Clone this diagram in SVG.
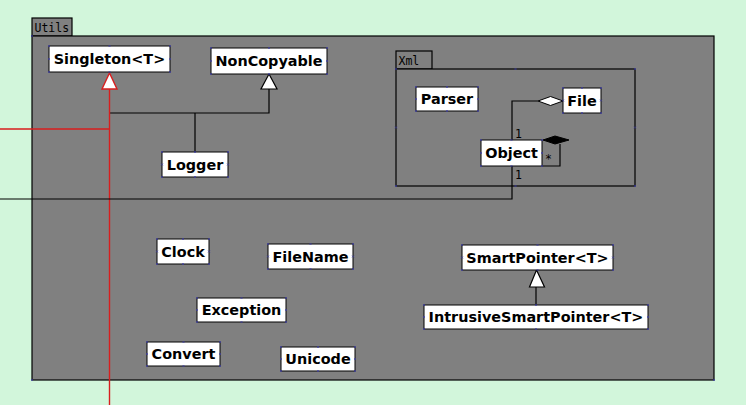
<svg xmlns="http://www.w3.org/2000/svg" width="746" height="405" viewBox="0 0 746 405">
<defs>
<style>
.bg{fill:#d2f6db}
.pkg{fill:#808080;stroke:#000;stroke-width:1.2}
.box{fill:#fff;stroke:#000;stroke-width:1}
.lbl{font-family:"DejaVu Sans",sans-serif;font-weight:bold;font-size:14.4px;text-anchor:middle;fill:#000}
.mono{font-family:"DejaVu Sans Mono",monospace;font-size:11.5px;fill:#000}
.ln{fill:none;stroke:#000;stroke-width:1.2}
.red{fill:none;stroke:#d81e1e;stroke-width:1.4}
.h{fill:none;stroke:none;marker-start:url(#hd);marker-mid:url(#hd)}
</style>
<marker id="hd" markerUnits="userSpaceOnUse" markerWidth="6" markerHeight="6" refX="3" refY="3" viewBox="0 0 6 6">
<path d="M2 2 L4 4 M4 2 L2 4" stroke="#3a3aa8" stroke-width="0.6" fill="none"/>
</marker>
</defs>
<rect class="bg" x="0" y="0" width="746" height="405"/>

<g id="pkg-utils">
<rect class="pkg" x="32" y="18" width="40" height="18"/>
<rect class="pkg" x="32" y="36" width="682" height="344"/>
<text class="mono" x="34.5" y="31.5">Utils</text>
<path class="h" d="M32 36 L32 380 L714 380 L714 36"/>
</g>

<g id="pkg-xml">
<rect class="pkg" x="396" y="51" width="36" height="18"/>
<rect class="pkg" x="396" y="69" width="239" height="117"/>
<text class="mono" x="398.5" y="64.5">Xml</text>
<path class="h" d="M396 69 L515.5 69 L635 69 L635 127.5 L635 186 L515.5 186 L396 186 L396 127.5 Z"/>
</g>

<g id="connectors">
<path class="ln" d="M195 152 V113 H110 M195 113 H269 V89"/>
<path d="M269 74 L261 89 L277 89 Z" fill="#fff" stroke="#000" stroke-width="1.2"/>
<path class="red" d="M109.5 405 V89 M0 129 H109.5"/>
<path d="M109.5 73 L102 89 L117 89 Z" fill="#fff" stroke="#d81e1e" stroke-width="1.4"/>
<path class="ln" d="M512 140 V101 H538"/>
<path d="M538 101 L550.5 96.5 L563 101 L550.5 105.5 Z" fill="#fff" stroke="#000" stroke-width="1"/>
<path class="ln" d="M542 166 H560 V144"/>
<path d="M543 140 L555 136 L569 140 L555 144 Z" fill="#000" stroke="#000" stroke-width="1"/>
<path class="ln" d="M512 166 V199 H0"/>
<text class="mono" x="515" y="137.5">1</text>
<text class="mono" x="545" y="163">*</text>
<text class="mono" x="515" y="178.5">1</text>
<path class="ln" d="M536 305 V287"/>
<path d="M536.5 270 L529.5 287 L544.5 287 Z" fill="#fff" stroke="#000" stroke-width="1.2"/>
</g>

<g id="n-singleton"><rect class="box" x="49" y="46" width="121" height="26"/><text class="lbl" x="109.5" y="64.2">Singleton&lt;T&gt;</text><path class="h" d="M49 46 L109.5 46 L170 46 L170 59 L170 72 L109.5 72 L49 72 L49 59 Z"/></g>
<g id="n-noncopyable"><rect class="box" x="211" y="48" width="116" height="26"/><text class="lbl" x="269" y="66.2">NonCopyable</text><path class="h" d="M211 48 L269 48 L327 48 L327 61 L327 74 L269 74 L211 74 L211 61 Z"/></g>
<g id="n-logger"><rect class="box" x="162" y="152" width="66" height="25"/><text class="lbl" x="195" y="169.7">Logger</text><path class="h" d="M162 152 L195 152 L228 152 L228 164.5 L228 177 L195 177 L162 177 L162 164.5 Z"/></g>
<g id="n-parser"><rect class="box" x="416" y="87" width="62" height="24"/><text class="lbl" x="447" y="104.2">Parser</text><path class="h" d="M416 87 L447 87 L478 87 L478 99 L478 111 L447 111 L416 111 L416 99 Z"/></g>
<g id="n-file"><rect class="box" x="563" y="88" width="38" height="25"/><text class="lbl" x="582" y="105.7">File</text><path class="h" d="M563 88 L582 88 L601 88 L601 100.5 L601 113 L582 113 L563 113 L563 100.5 Z"/></g>
<g id="n-object"><rect class="box" x="481" y="140" width="61" height="26"/><text class="lbl" x="511.5" y="158.2">Object</text><path class="h" d="M481 140 L511.5 140 L542 140 L542 153 L542 166 L511.5 166 L481 166 L481 153 Z"/></g>
<g id="n-clock"><rect class="box" x="157" y="239" width="52" height="25"/><text class="lbl" x="183" y="256.7">Clock</text><path class="h" d="M157 239 L183 239 L209 239 L209 251.5 L209 264 L183 264 L157 264 L157 251.5 Z"/></g>
<g id="n-filename"><rect class="box" x="268" y="244" width="85" height="25"/><text class="lbl" x="310.5" y="261.7">FileName</text><path class="h" d="M268 244 L310.5 244 L353 244 L353 256.5 L353 269 L310.5 269 L268 269 L268 256.5 Z"/></g>
<g id="n-exception"><rect class="box" x="197" y="298" width="89" height="24"/><text class="lbl" x="241.5" y="315.2">Exception</text><path class="h" d="M197 298 L241.5 298 L286 298 L286 310 L286 322 L241.5 322 L197 322 L197 310 Z"/></g>
<g id="n-convert"><rect class="box" x="147" y="342" width="73" height="24"/><text class="lbl" x="183.5" y="359.2">Convert</text><path class="h" d="M147 342 L183.5 342 L220 342 L220 354 L220 366 L183.5 366 L147 366 L147 354 Z"/></g>
<g id="n-unicode"><rect class="box" x="281" y="347" width="74" height="24"/><text class="lbl" x="318" y="364.2">Unicode</text><path class="h" d="M281 347 L318 347 L355 347 L355 359 L355 371 L318 371 L281 371 L281 359 Z"/></g>
<g id="n-smartpointer"><rect class="box" x="462" y="245" width="151" height="25"/><text class="lbl" x="537.5" y="262.7">SmartPointer&lt;T&gt;</text><path class="h" d="M462 245 L537.5 245 L613 245 L613 257.5 L613 270 L537.5 270 L462 270 L462 257.5 Z"/></g>
<g id="n-intrusive"><rect class="box" x="424" y="305" width="224" height="24"/><text class="lbl" x="536" y="322.2">IntrusiveSmartPointer&lt;T&gt;</text><path class="h" d="M424 305 L536 305 L648 305 L648 317 L648 329 L536 329 L424 329 L424 317 Z"/></g>
</svg>
